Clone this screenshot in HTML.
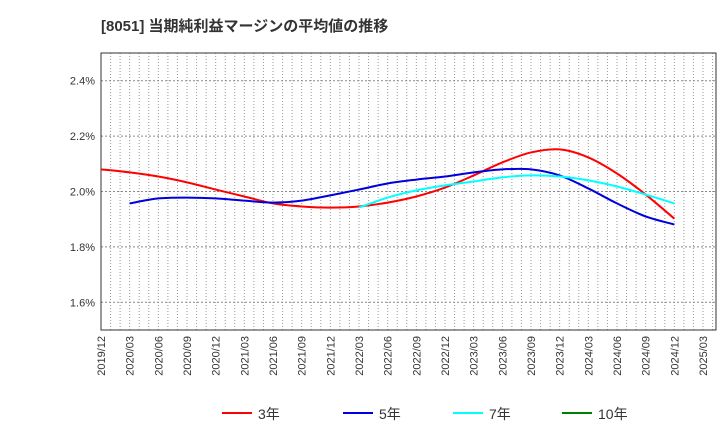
<!DOCTYPE html>
<html><head><meta charset="utf-8"><style>
body{margin:0;background:#fff;}
svg{display:block;font-family:"Liberation Sans","Noto Sans CJK JP",sans-serif;}
</style></head><body>
<svg id="chart" width="720" height="440">
<text x="101" y="31" font-size="15" font-weight="bold" fill="#333">[8051]  当期純利益マージンの平均値の推移</text>
<g id="grid"></g>
<rect x="101" y="53" width="615" height="277" fill="none" stroke="#333" stroke-width="1"/>
<g id="axes"></g>
<g id="series"></g>
<g id="legend"></g>
</svg>
<script>
const xLabels=["2019/12","2020/03","2020/06","2020/09","2020/12","2021/03","2021/06","2021/09","2021/12","2022/03","2022/06","2022/09","2022/12","2023/03","2023/06","2023/09","2023/12","2024/03","2024/06","2024/09","2024/12","2025/03"];
const yTicks=[1.6,1.8,2.0,2.2,2.4];
const red3=[2.080,2.069,2.054,2.033,2.007,1.982,1.957,1.946,1.942,1.946,1.960,1.982,2.014,2.058,2.105,2.141,2.152,2.123,2.065,1.989,1.902];
const blue5=[1.957,1.975,1.978,1.975,1.967,1.960,1.967,1.986,2.007,2.029,2.043,2.054,2.069,2.080,2.080,2.058,2.011,1.957,1.910,1.881];
const cyan7=[1.942,1.978,2.004,2.022,2.036,2.051,2.058,2.054,2.040,2.018,1.989,1.957];
const ten10=[];
const NS="http://www.w3.org/2000/svg";
const L=101,R=716,T=53,B=330,yMin=1.5,yMax=2.5,XL=703;
const xq=i=>L+(XL-L)*i/(xLabels.length-1);
const xm=m=>L+(XL-L)*m/((xLabels.length-1)*3);
const y=v=>B-(v-yMin)/(yMax-yMin)*(B-T);
function mk(tag,attrs,parent){const e=document.createElementNS(NS,tag);for(const k in attrs)e.setAttribute(k,attrs[k]);parent.appendChild(e);return e;}
const grid=document.getElementById('grid'),axes=document.getElementById('axes'),series=document.getElementById('series'),legend=document.getElementById('legend');
for(let m=1;xm(m)<R;m++){
 const g=mk('line',{x1:xm(m),x2:xm(m),y1:T,y2:B,stroke:'#999','stroke-width':1,'stroke-dasharray':'1,2'},grid);
 
 
}
yTicks.forEach(v=>{
 const g=mk('line',{x1:L,x2:R,y1:y(v),y2:y(v),stroke:'#888','stroke-width':1,'stroke-dasharray':'2,2'},grid);
 
 
 const t=mk('text',{x:L-6,y:y(v)+4,'text-anchor':'end','font-size':11,fill:'#333'},axes);
 t.textContent=v.toFixed(1)+'%';
 
 
});
xLabels.forEach((s,i)=>{
 const t=mk('text',{transform:`translate(${xq(i)+4},${B+6}) rotate(-90)`,'text-anchor':'end','font-size':11,fill:'#333'},axes);
 t.textContent=s;
 
 
});
function path(vals,start,color,name){
 if(!vals.length)return;
 const p=vals.map((v,i)=>[xq(start+i),y(v)]);
 let d=`M${p[0][0]},${p[0][1]}`;
 for(let i=0;i<p.length-1;i++){
  const p0=p[i-1]||p[i],p1=p[i],p2=p[i+1],p3=p[i+2]||p2;
  d+=` C${p1[0]+(p2[0]-p0[0])/6},${p1[1]+(p2[1]-p0[1])/6} ${p2[0]-(p3[0]-p1[0])/6},${p2[1]-(p3[1]-p1[1])/6} ${p2[0]},${p2[1]}`;
 }
 const e=mk('path',{d:d,fill:'none',stroke:color,'stroke-width':2},series);
 
 
}
path(red3,0,'#ff0000','line-3yr');
path(blue5,1,'#0000dd','line-5yr');
path(cyan7,9,'#00ffff','line-7yr');
path(ten10,0,'#008000','line-10yr');
const leg=[['3年','#ff0000',222],['5年','#0000dd',343],['7年','#00ffff',453],['10年','#008000',562]];
leg.forEach(([s,c,x])=>{
 const g=mk('g',{},legend);
 
 
 mk('line',{x1:x,x2:x+30,y1:413,y2:413,stroke:c,'stroke-width':2},g);
 const t=mk('text',{x:x+36,y:419,'font-size':14,fill:'#333'},g);
 t.textContent=s;
});
</script>
</body></html>
